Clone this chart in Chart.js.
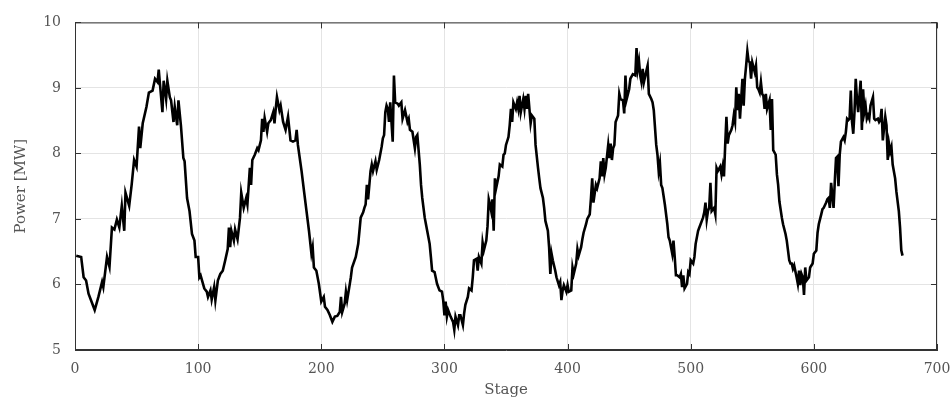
<!DOCTYPE html>
<html>
<head>
<meta charset="utf-8">
<script src="https://cdn.jsdelivr.net/npm/chart.js@4/dist/chart.umd.min.js"></script>
<style>
  body { margin: 0; background: #fff; }
  #wrap { width: 951px; height: 401px; }
</style>
</head>
<body>
<div id="wrap"><canvas id="grafico" width="951" height="401"></canvas></div>
<script>
// stage numbers
const stages = [
  1, 5, 7, 9, 11, 13, 16, 19, 22, 23,
  26, 28, 30, 32, 34, 36, 38, 40, 41, 44,
  46, 48, 50, 52, 53, 55, 58, 60, 63, 65,
  67, 68, 69, 71, 72, 74, 75, 77, 78, 80,
  81, 83, 84, 86, 88, 89, 91, 93, 95, 97,
  98, 100, 101, 102, 105, 107, 108, 110, 111, 113,
  114, 116, 118, 120, 122, 124, 125, 126, 127, 129,
  130, 132, 134, 135, 137, 139, 140, 142, 143, 144,
  146, 148, 149, 151, 152, 153, 154, 156, 157, 159,
  161, 162, 163, 164, 166, 167, 169, 171, 173, 175,
  177, 179, 180, 181, 184, 186, 188, 190, 192, 193,
  194, 196, 198, 200, 202, 203, 205, 207, 209, 211,
  213, 215, 216, 217, 219, 220, 221, 223, 224, 225,
  228, 230, 231, 232, 234, 235, 236, 237, 238, 240,
  241, 242, 244, 245, 247, 249, 250, 251, 252, 253,
  254, 255, 256, 257, 258, 259, 260, 262, 263, 265,
  266, 268, 270, 271, 272, 274, 276, 277, 278, 280,
  281, 282, 284, 285, 286, 288, 289, 290, 292, 294,
  296, 298, 299, 300, 301, 302, 303, 305, 307, 308,
  309, 311, 312, 313, 315, 316, 317, 319, 320, 322,
  323, 324, 326, 327, 328, 330, 331, 332, 334, 335,
  336, 337, 338, 339, 340, 341, 342, 344, 345, 347,
  348, 349, 350, 352, 353, 354, 355, 356, 358, 359,
  360, 361, 362, 364, 365, 366, 367, 368, 370, 371,
  373, 374, 376, 377, 378, 380, 381, 382, 384, 385,
  386, 387, 388, 390, 391, 393, 394, 395, 396, 397,
  399, 400, 401, 403, 404, 405, 407, 408, 409, 411,
  412, 413, 415, 416, 418, 419, 420, 421, 423, 424,
  426, 427, 428, 429, 430, 431, 433, 434, 435, 436,
  437, 438, 439, 441, 442, 443, 445, 446, 447, 448,
  450, 451, 453, 455, 456, 457, 458, 459, 460, 461,
  462, 464, 465, 466, 468, 469, 470, 472, 473, 474,
  475, 476, 477, 479, 481, 482, 483, 485, 486, 487,
  488, 489, 491, 492, 493, 494, 495, 497, 498, 499,
  500, 502, 503, 504, 506, 507, 508, 510, 511, 512,
  513, 514, 515, 516, 517, 519, 520, 521, 522, 524,
  525, 526, 527, 528, 529, 530, 531, 533, 534, 535,
  536, 537, 538, 539, 540, 542, 543, 544, 545, 546,
  547, 548, 549, 550, 552, 553, 554, 555, 556, 557,
  558, 559, 560, 561, 562, 564, 565, 566, 567, 569,
  570, 571, 572, 574, 575, 577, 578, 579, 580, 581,
  582, 583, 584, 586, 587, 588, 589, 590, 591, 592,
  593, 594, 596, 597, 599, 600, 602, 603, 604, 606,
  607, 608, 610, 611, 612, 613, 614, 616, 617, 618,
  619, 620, 621, 622, 624, 625, 626, 627, 628, 629,
  630, 631, 632, 633, 634, 635, 636, 638, 639, 640,
  641, 642, 643, 644, 645, 646, 648, 649, 650, 652,
  653, 654, 655, 656, 658, 659, 660, 661, 662, 663,
  664, 666, 667, 669, 670, 671, 672
];

// power [MW] at each of those stages
const power = [
  6.44, 6.42, 6.11, 6.06, 5.86, 5.76, 5.61, 5.81, 6.04, 5.96,
  6.42, 6.27, 6.87, 6.84, 6.99, 6.87, 7.2, 6.82, 7.4, 7.2,
  7.52, 7.9, 7.8, 8.41, 8.08, 8.46, 8.71, 8.93, 8.96, 9.14,
  9.09, 9.28, 9.06, 8.63, 9.11, 8.83, 9.11, 8.86, 8.81, 8.48,
  8.71, 8.43, 8.81, 8.43, 7.93, 7.88, 7.32, 7.12, 6.77, 6.67,
  6.42, 6.42, 6.11, 6.14, 5.94, 5.89, 5.81, 5.91, 5.77, 5.96,
  5.76, 6.06, 6.16, 6.21, 6.37, 6.54, 6.87, 6.57, 6.82, 6.67,
  6.84, 6.69, 7.02, 7.4, 7.17, 7.32, 7.22, 7.78, 7.52, 7.9,
  7.98, 8.08, 8.05, 8.2, 8.53, 8.33, 8.54, 8.33, 8.46, 8.51,
  8.63, 8.46, 8.68, 8.86, 8.66, 8.73, 8.48, 8.36, 8.56, 8.2,
  8.18, 8.2, 8.36, 8.13, 7.73, 7.42, 7.12, 6.82, 6.47, 6.57,
  6.26, 6.21, 6.01, 5.74, 5.81, 5.66, 5.61, 5.53, 5.43, 5.51,
  5.52, 5.58, 5.81, 5.58, 5.71, 5.89, 5.76, 5.99, 6.11, 6.26,
  6.42, 6.62, 6.82, 7.02, 7.1, 7.17, 7.22, 7.52, 7.3, 7.73,
  7.83, 7.73, 7.88, 7.75, 7.9, 8.1, 8.23, 8.28, 8.63, 8.73,
  8.68, 8.48, 8.78, 8.48, 8.18, 9.19, 8.78, 8.76, 8.73, 8.78,
  8.53, 8.66, 8.48, 8.53, 8.36, 8.33, 8.08, 8.25, 8.28, 7.83,
  7.52, 7.32, 7.02, 6.92, 6.82, 6.62, 6.42, 6.21, 6.19, 6.01,
  5.91, 5.89, 5.76, 5.53, 5.74, 5.51, 5.61, 5.51, 5.43, 5.31,
  5.51, 5.38, 5.53, 5.53, 5.38, 5.56, 5.69, 5.81, 5.94, 5.91,
  6.11, 6.37, 6.39, 6.21, 6.42, 6.32, 6.64, 6.52, 6.67, 6.89,
  7.3, 7.22, 7.12, 7.3, 6.82, 7.62, 7.47, 7.65, 7.83, 7.8,
  7.98, 8.0, 8.13, 8.25, 8.43, 8.68, 8.48, 8.78, 8.68, 8.78,
  8.68, 8.88, 8.63, 8.83, 8.68, 8.88, 8.68, 8.91, 8.46, 8.58,
  8.53, 8.13, 7.78, 7.62, 7.47, 7.32, 7.17, 6.97, 6.82, 6.57,
  6.16, 6.47, 6.37, 6.21, 6.11, 5.99, 6.04, 5.76, 5.91, 5.99,
  5.89, 5.99, 5.89, 5.91, 6.26, 6.16, 6.32, 6.54, 6.44, 6.57,
  6.69, 6.79, 6.92, 7.0, 7.07, 7.32, 7.62, 7.25, 7.52, 7.47,
  7.62, 7.88, 7.65, 7.93, 7.68, 7.78, 8.13, 7.93, 8.15, 7.9,
  8.08, 8.13, 8.48, 8.58, 8.91, 8.83, 8.81, 8.61, 9.19, 8.83,
  8.98, 9.14, 9.21, 9.19, 9.61, 9.29, 9.41, 9.19, 9.09, 9.29,
  9.09, 9.26, 9.34, 8.91, 8.83, 8.78, 8.66, 8.13, 7.98, 7.73,
  7.85, 7.52, 7.47, 7.22, 6.92, 6.72, 6.67, 6.47, 6.67, 6.42,
  6.14, 6.14, 6.11, 6.16, 5.96, 6.14, 5.94, 6.01, 6.19, 6.16,
  6.37, 6.32, 6.42, 6.62, 6.82, 6.87, 6.92, 7.02, 7.1, 7.25,
  6.99, 7.12, 7.17, 7.55, 7.12, 7.17, 7.07, 7.78, 7.73, 7.8,
  7.68, 7.8, 7.65, 8.13, 8.56, 8.15, 8.28, 8.36, 8.43, 8.58,
  8.48, 9.01, 8.66, 8.91, 8.53, 9.14, 8.73, 9.14, 9.34, 9.56,
  9.41, 9.39, 9.14, 9.39, 9.24, 9.34, 9.01, 8.98, 8.93, 9.09,
  8.91, 8.88, 8.68, 8.91, 8.68, 8.81, 8.36, 8.83, 8.05, 7.98,
  7.68, 7.52, 7.27, 7.02, 6.92, 6.77, 6.67, 6.52, 6.37, 6.32,
  6.32, 6.24, 6.29, 6.11, 6.01, 6.21, 5.99, 6.16, 6.11, 5.84,
  6.26, 6.06, 6.11, 6.26, 6.32, 6.47, 6.52, 6.79, 6.92, 7.07,
  7.15, 7.17, 7.25, 7.3, 7.32, 7.17, 7.55, 7.17, 7.57, 7.93,
  7.95, 7.5, 7.98, 8.18, 8.25, 8.2, 8.33, 8.53, 8.51, 8.53,
  8.96, 8.48, 8.3, 8.63, 9.14, 8.83, 8.63, 9.11, 8.36, 8.98,
  8.63, 8.73, 8.53, 8.58, 8.53, 8.73, 8.86, 8.53, 8.51, 8.53,
  8.48, 8.51, 8.68, 8.2, 8.56, 8.43, 7.9, 8.15, 8.03, 8.1,
  7.83, 7.62, 7.42, 7.12, 6.87, 6.52, 6.44
];

const xTicks = [0, 100, 200, 300, 400, 500, 600, 700];
const yTicks = [5, 6, 7, 8, 9, 10];

const fuente = "'DejaVu Serif', 'Liberation Serif', serif";
const gris = "#555";

// marco completo y marcas de escala hacia adentro (estilo matlab)
const marco = {
  id: "marco",
  afterDraw(chart) {
    const { ctx, chartArea: a, scales } = chart;
    ctx.save();
    ctx.strokeStyle = "#333";
    ctx.lineWidth = 1;
    ctx.strokeRect(a.left + 0.5, a.top + 0.5, a.right - a.left - 1, a.bottom - a.top - 1);
    ctx.beginPath();
    xTicks.forEach((v) => {
      const px = Math.round(scales.x.getPixelForValue(v)) + 0.5;
      ctx.moveTo(px, a.bottom); ctx.lineTo(px, a.bottom - 6);
      ctx.moveTo(px, a.top); ctx.lineTo(px, a.top + 6);
    });
    yTicks.forEach((v) => {
      const py = Math.round(scales.y.getPixelForValue(v)) + 0.5;
      ctx.moveTo(a.left, py); ctx.lineTo(a.left + 6, py);
      ctx.moveTo(a.right, py); ctx.lineTo(a.right - 6, py);
    });
    ctx.stroke();
    ctx.restore();
  },
};

new Chart(document.getElementById("grafico").getContext("2d"), {
  type: "line",
  data: {
    datasets: [
      {
        data: stages.map((s, i) => ({ x: s, y: power[i] })),
        borderColor: "#000",
        borderWidth: 2.6,
        pointRadius: 0,
        tension: 0,
        fill: false,
      },
    ],
  },
  options: {
    responsive: false,
    animation: false,
    devicePixelRatio: 1,
    layout: { padding: { left: 0, right: 0, top: 18, bottom: 0 } },
    plugins: { legend: { display: false }, tooltip: { enabled: false } },
    scales: {
      x: {
        type: "linear",
        min: 0,
        max: 700,
        afterBuildTicks: (s) => { s.ticks = xTicks.map((v) => ({ value: v })); },
        afterFit: (s) => { s.height = 51; s.paddingRight = 14; },
        grid: { color: "#e4e4e4", drawTicks: false },
        border: { color: "#333" },
        ticks: { padding: 11, color: gris, font: { family: fuente, size: 14 } },
        title: {
          display: true,
          text: "Stage",
          color: gris,
          padding: { top: 0, bottom: 2 },
          font: { family: fuente, size: 15 },
        },
      },
      y: {
        min: 5,
        max: 10,
        afterBuildTicks: (s) => { s.ticks = yTicks.map((v) => ({ value: v })); },
        afterFit: (s) => { s.width = 75; },
        grid: { color: "#e4e4e4", drawTicks: false },
        border: { color: "#333" },
        ticks: { padding: 14, color: gris, font: { family: fuente, size: 14 } },
        title: {
          display: true,
          text: "Power [MW]",
          color: gris,
          padding: { top: 12, bottom: 0 },
          font: { family: fuente, size: 15 },
        },
      },
    },
  },
  plugins: [marco],
});
</script>
</body>
</html>
